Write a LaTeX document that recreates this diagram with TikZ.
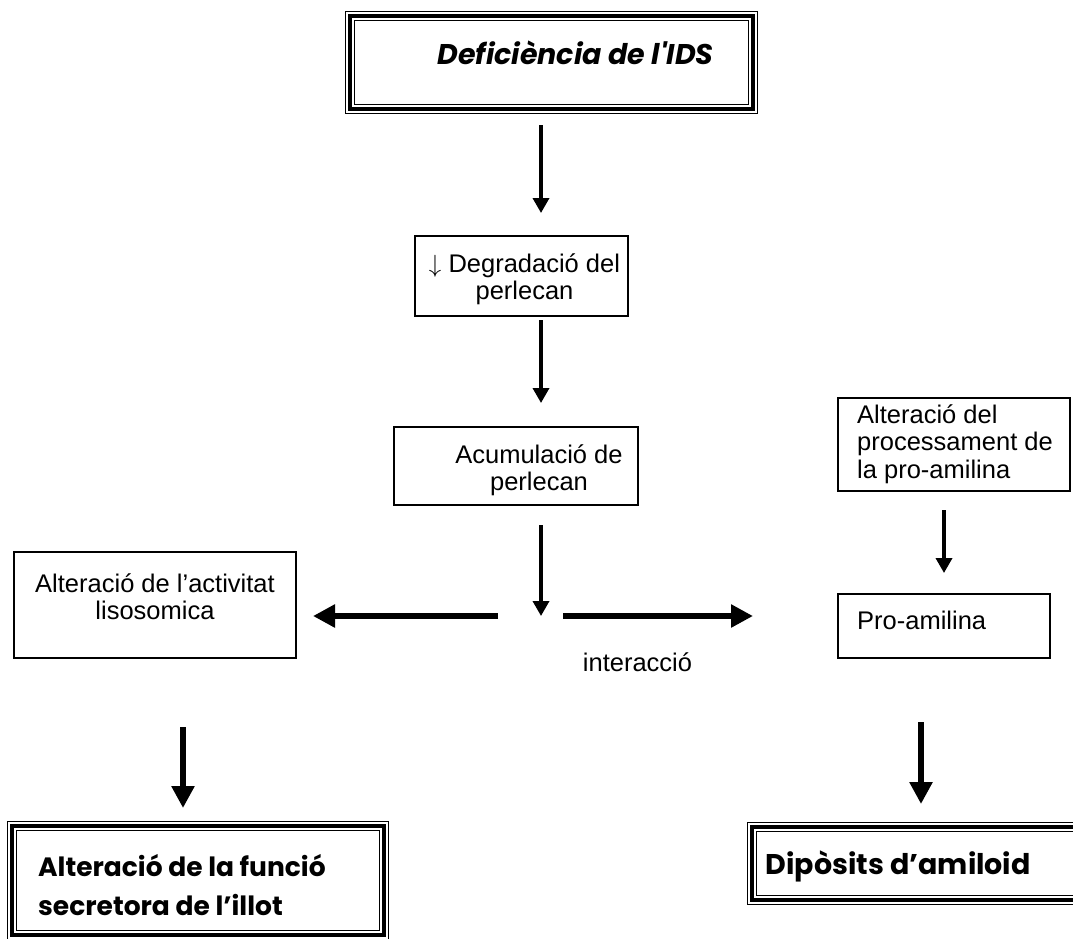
\documentclass[tikz,border=0pt]{standalone}
\usepackage{fontspec}
\setmainfont{Liberation Sans}
\newfontfamily\comicf{Poppins}
\usetikzlibrary{arrows.meta}
\begin{document}
\begin{tikzpicture}[x=1pt,y=-1pt,
  box/.style={draw, line width=1.2pt, outer sep=0pt, inner sep=0pt},
  tbox/.style={preaction={draw, line width=10pt}, preaction={draw, white, line width=8pt}, draw, line width=4pt, outer sep=0pt, inner sep=0pt},
  thinarr/.style={line width=3.5pt, -{Triangle[width=16pt,length=15pt]}},
  thickarr/.style={line width=6pt, -{Triangle[width=22pt,length=22pt]}},
  txt/.style={font=\fontsize{25.5}{27.5}\selectfont, inner sep=0pt},
  ctxt/.style={font=\comicf\bfseries\fontsize{26.5}{39}\selectfont, inner sep=0pt},
]
\path[fill=white] (0,0) rectangle (1073,938);
\useasboundingbox (0,0) rectangle (1073,938);

% boxes
\node[tbox, minimum width=403pt, minimum height=93pt,
  label={[ctxt, font=\comicf\bfseries\itshape\fontsize{28.5}{39}\selectfont, xshift=24pt, yshift=10pt]center:{Deficiència de l'IDS}}]
  (top) at (551.5,62.5) {};
\node[box, minimum width=213pt, minimum height=80pt,
  label={[txt, align=center, xshift=3pt, yshift=-3pt]center:{$\downarrow$ Degradació del\\perlecan}}]
  (deg) at (521.5,276) {};
\node[box, minimum width=244pt, minimum height=78pt,
  label={[txt, align=center, xshift=23pt, yshift=-4pt]center:{Acumulació de\\perlecan}}]
  (acu) at (516,466) {};
\node[box, minimum width=282pt, minimum height=106pt,
  label={[txt, align=center, yshift=8.5pt]center:{Alteració de l’activitat\\lisosomica}}]
  (lis) at (155,605) {};
\node[box, minimum width=232pt, minimum height=93pt,
  label={[txt, align=left, anchor=west, xshift=19pt, yshift=0.5pt]west:{Alteració del\\processament de\\la pro-amilina}}]
  (alt) at (954,444.5) {};
\node[box, minimum width=212pt, minimum height=64pt,
  label={[txt, align=left, anchor=west, xshift=19pt, yshift=6pt]west:{Pro-amilina}}]
  (pro) at (944,626) {};
\node[tbox, minimum width=371.5pt, minimum height=109pt,
  label={[ctxt, align=left, anchor=west, xshift=26pt, yshift=-5.5pt]west:{Alteració de la funció\\secretora de l’illot}}]
  (bl) at (197.75,880) {};
\node[tbox, minimum width=328.5pt, minimum height=73pt,
  label={[ctxt, font=\comicf\bfseries\fontsize{28.5}{39}\selectfont, align=left, anchor=west, xshift=14pt, yshift=-3pt]west:{Dipòsits d’amiloid}}]
  (br) at (915.75,863) {};

% coordinates for columns
\coordinate (c1) at (541,0);
\coordinate (c2) at (944,0);
\coordinate (c3) at (183,0);
\coordinate (c4) at (921,0);
\coordinate (junc) at (541,616);

% connectors
\draw[thinarr, shorten <=16pt, shorten >=23pt] (top.south -| c1) -- (deg.north -| c1);
\draw[thinarr, shorten <=4pt, shorten >=24pt] (deg.south -| c1) -- (acu.north -| c1);
\draw[thinarr, shorten <=20pt] (acu.south -| c1) -- (junc);
\draw[thickarr, shorten <=43pt, shorten >=17pt] (junc) -- (junc -| lis.east);
\draw[thickarr, shorten <=22pt, shorten >=85pt] (junc) -- node[txt, below=34pt, xshift=-52pt] {interacció} (junc -| pro.west);
\draw[thinarr, shorten <=19pt, shorten >=21pt] (alt.south -| c2) -- (pro.north -| c2);
\draw[thickarr, shorten <=69pt, shorten >=17.5pt] (lis.south -| c3) -- (bl.north -| c3);
\draw[thickarr, shorten <=64pt, shorten >=22.5pt] (pro.south -| c4) -- (br.north -| c4);
\end{tikzpicture}
\end{document}
